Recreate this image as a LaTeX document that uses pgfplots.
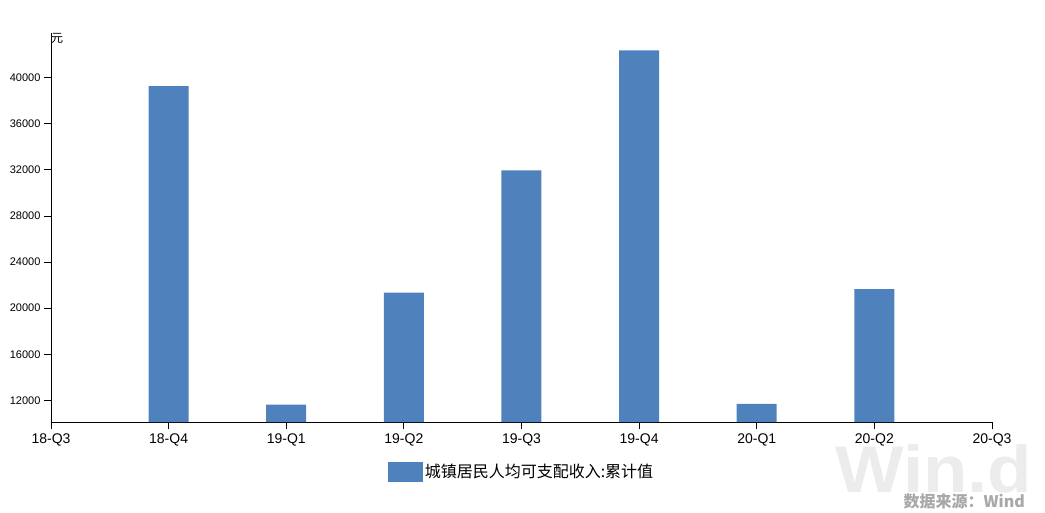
\documentclass[border=0pt]{standalone}
\usepackage{pgfplots}
\pgfplotsset{compat=1.18}
\usepackage{fontspec}
\setmainfont{Liberation Sans}
\newfontfamily\cjk{Noto Sans CJK SC}
\definecolor{barblue}{RGB}{79,129,189}
\definecolor{wmgrey}{RGB}{236,236,236}
\definecolor{srcgrey}{RGB}{168,168,168}
\begin{document}
\begin{tikzpicture}[x=1pt,y=1pt]
\path[use as bounding box] (0,0) rectangle (1045,512);
% watermark
\node[anchor=south west, inner sep=0pt, text=wmgrey, xscale=1.1,
  font=\fontsize{66}{70}\selectfont\bfseries] at (835,19) {Win.d};
\node[anchor=south east, inner sep=0pt, text=srcgrey, font=\cjk\fontsize{16}{18}\selectfont\bfseries] at (1025,3) {数据来源：Wind};
\begin{axis}[
  at={(51pt,90pt)}, anchor=south west,
  scale only axis, width=941pt, height=389pt,
  xmin=0, xmax=8, ymin=10130, ymax=43860,
  axis x line*=bottom, axis y line*=left,
  axis line style={black, -},
  xtick={0,...,8},
  xticklabels={18-Q3,18-Q4,19-Q1,19-Q2,19-Q3,19-Q4,20-Q1,20-Q2,20-Q3},
  ytick={12000,16000,...,40000},
  scaled y ticks=false,
  /pgf/number format/assume math mode=true,
  yticklabel style={/pgf/number format/fixed, /pgf/number format/1000 sep={}},
  x tick label style={font=\fontsize{14}{16}\selectfont, yshift=-1pt},
  y tick label style={font=\fontsize{11}{13}\selectfont},
  tick align=outside, major tick length=7pt,
  tick style={black, line width=0.8pt},
  ybar, bar width=40pt,
  legend style={at={(0.5,-0.1285)}, anchor=center, draw=none, fill=none,
    font=\cjk\fontsize{16}{18}\selectfont, inner sep=0pt},
  legend image code/.code={\fill[barblue] (0pt,-10pt) rectangle (35pt,10pt);},
  clip=false,
]
\addplot[fill=barblue, draw=none] coordinates {
  (1,39251) (2,11633) (3,21342) (4,31939) (5,42359) (6,11691) (7,21655)};
\addlegendentry{城镇居民人均可支配收入:累计值}
\node[anchor=north west, inner sep=0pt, font=\cjk\fontsize{12}{14}\selectfont] at (rel axis cs:0,1) {元};
\end{axis}
\end{tikzpicture}
\end{document}
